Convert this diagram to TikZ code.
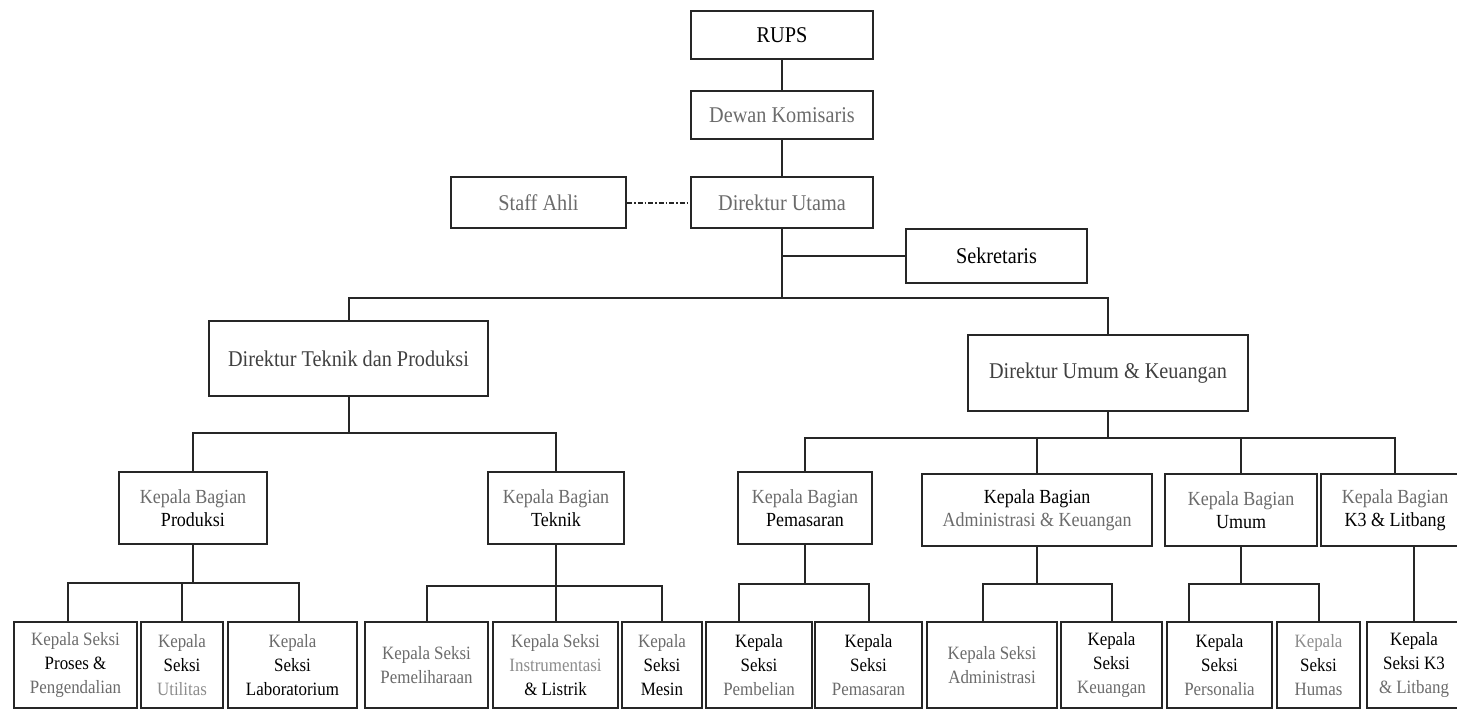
\documentclass[tikz,border=0pt]{standalone}
\usepackage{fontspec}
\setmainfont{Liberation Serif}[FakeStretch=0.9]
\definecolor{tgray}{gray}{0.42}
\definecolor{tlight}{gray}{0.55}
\definecolor{tdark}{gray}{0.25}

\begin{document}
\begin{tikzpicture}[x=1pt, y=-1pt,
    orgbox/.style={rectangle, draw=black!85, line width=2pt, align=center, inner sep=1pt, text=black},
    topbox/.style={orgbox, font=\fontsize{22.5}{26}\selectfont},
    headbox/.style={orgbox, minimum height=72pt, font=\fontsize{20}{23}\selectfont},
    seksibox/.style={orgbox, minimum height=86pt, font=\fontsize{18.8}{24}\selectfont},
    link/.style={line width=2pt, draw=black!85}
]
    \useasboundingbox (0,0) rectangle (1457,710);
    \clip (0,0) rectangle (1457,710);

    % Place nodes
    \node [topbox, minimum width=182pt, minimum height=48pt] (rups) at (782,35) {RUPS};
    \node [topbox, minimum width=182pt, minimum height=48pt, text=tgray] (dewan) at (782,115) {Dewan Komisaris};
    \node [topbox, minimum width=182pt, minimum height=51pt, text=tgray] (dirut) at (782,202.5) {Direktur Utama};
    \node [topbox, minimum width=175pt, minimum height=51pt, text=tgray] (staff) at (538.5,202.5) {Staff Ahli};
    \node [topbox, minimum width=181pt, minimum height=54pt] (sekre) at (996.5,256) {Sekretaris};
    \node [topbox, minimum width=279pt, minimum height=75pt, text=tdark] (dirtek) at (348.5,358.5) {Direktur Teknik dan Produksi};
    \node [topbox, minimum width=280pt, minimum height=76pt, text=tdark] (dirum) at (1108,373) {Direktur Umum \& Keuangan};

    \node [headbox, minimum width=148pt] (kbprod) at (193,508) {\textcolor{tgray}{Kepala Bagian}\\Produksi};
    \node [headbox, minimum width=136pt] (kbtek) at (556,508) {\textcolor{tgray}{Kepala Bagian}\\Teknik};
    \node [headbox, minimum width=134pt] (kbpem) at (805,508) {\textcolor{tgray}{Kepala Bagian}\\Pemasaran};
    \node [headbox, minimum width=230pt] (kbadm) at (1037,510) {Kepala Bagian\\\textcolor{tgray}{Administrasi \& Keuangan}};
    \node [headbox, minimum width=152pt] (kbum) at (1241,510) {\textcolor{tgray}{Kepala Bagian}\\Umum};
    \node [headbox, minimum width=148pt] (kbk3) at (1395,510) {\textcolor{tgray}{Kepala Bagian}\\K3 \& Litbang};

    \node [seksibox, minimum width=123pt] (ksproses) at (75.5,665) {\textcolor{tgray}{Kepala Seksi}\\Proses \&\\\textcolor{tgray}{Pengendalian}};
    \node [seksibox, minimum width=82pt] (ksutil) at (182,665) {\textcolor{tgray}{Kepala}\\Seksi\\\textcolor{tlight}{Utilitas}};
    \node [seksibox, minimum width=129pt] (kslab) at (292.5,665) {\textcolor{tgray}{Kepala}\\Seksi\\Laboratorium};
    \node [seksibox, minimum width=123pt, text=tgray] (kspemel) at (426.5,665) {Kepala Seksi\\Pemeliharaan};
    \node [seksibox, minimum width=125pt] (ksinstr) at (555.5,665) {\textcolor{tgray}{Kepala Seksi}\\\textcolor{tlight}{Instrumentasi}\\\& Listrik};
    \node [seksibox, minimum width=80pt] (ksmesin) at (662,665) {\textcolor{tgray}{Kepala}\\Seksi\\Mesin};
    \node [seksibox, minimum width=106pt] (ksbeli) at (759,665) {Kepala\\Seksi\\\textcolor{tgray}{Pembelian}};
    \node [seksibox, minimum width=107pt] (kspasar) at (868.5,665) {Kepala\\Seksi\\\textcolor{tgray}{Pemasaran}};
    \node [seksibox, minimum width=130pt, text=tgray] (ksadmin) at (992,665) {Kepala Seksi\\Administrasi};
    \node [seksibox, minimum width=101pt] (ksuang) at (1111.5,665) {Kepala\\Seksi\\\textcolor{tgray}{Keuangan}};
    \node [seksibox, minimum width=105pt] (ksperson) at (1219.5,665) {Kepala\\Seksi\\\textcolor{tgray}{Personalia}};
    \node [seksibox, minimum width=83pt] (kshumas) at (1318.5,665) {\textcolor{tlight}{Kepala}\\Seksi\\\textcolor{tgray}{Humas}};
    \node [seksibox, minimum width=94pt] (ksk3) at (1414,665) {Kepala\\Seksi K3\\\textcolor{tgray}{\& Litbang}};

    % Draw edges
    \draw [link] (rups) -- (dewan);
    \draw [link] (dewan) -- (dirut);
    \draw [link, dash pattern=on 5pt off 2pt on 1.5pt off 2pt] (staff) -- (dirut);
    \draw [link] (dirut.south) -- ++(0,69) coordinate (jdir);
    \draw [link] (sekre) -- (sekre -| dirut.south);
    \draw [link] (dirtek) |- (jdir) -| (dirum);

    \draw [link] (dirtek.south) -- ++(0,36) coordinate (jtek);
    \draw [link] (kbprod) |- (jtek) -| (kbtek);
    \draw [link] (dirum.south) -- ++(0,26) coordinate (jum);
    \draw [link] (kbpem) |- (jum) -| (kbk3);
    \draw [link] (kbadm) -- (kbadm |- jum);
    \draw [link] (kbum) -- (kbum |- jum);

    \draw [link] (kbprod.south) -- ++(0,38) coordinate (jprod);
    \draw [link] ([xshift=-8pt]ksproses.north) |- (jprod) -| ([xshift=6pt]kslab.north);
    \draw [link] (ksutil) -- (ksutil |- jprod);
    \draw [link] (kbtek.south) -- ++(0,41) coordinate (jtekn);
    \draw [link] (kspemel) |- (jtekn) -| (ksmesin);
    \draw [link] (ksinstr) -- (ksinstr |- jtekn);
    \draw [link] (kbpem.south) -- ++(0,39) coordinate (jpem);
    \draw [link] ([xshift=-20pt]ksbeli.north) |- (jpem) -| (kspasar);
    \draw [link] (kbadm.south) -- ++(0,37) coordinate (jadm);
    \draw [link] ([xshift=-9pt]ksadmin.north) |- (jadm) -| (ksuang);
    \draw [link] (kbum.south) -- ++(0,37) coordinate (jumum);
    \draw [link] ([xshift=-31pt]ksperson.north) |- (jumum) -| (kshumas);
    \draw [link] (ksk3) -- (ksk3 |- kbk3.south);
\end{tikzpicture}
\end{document}
